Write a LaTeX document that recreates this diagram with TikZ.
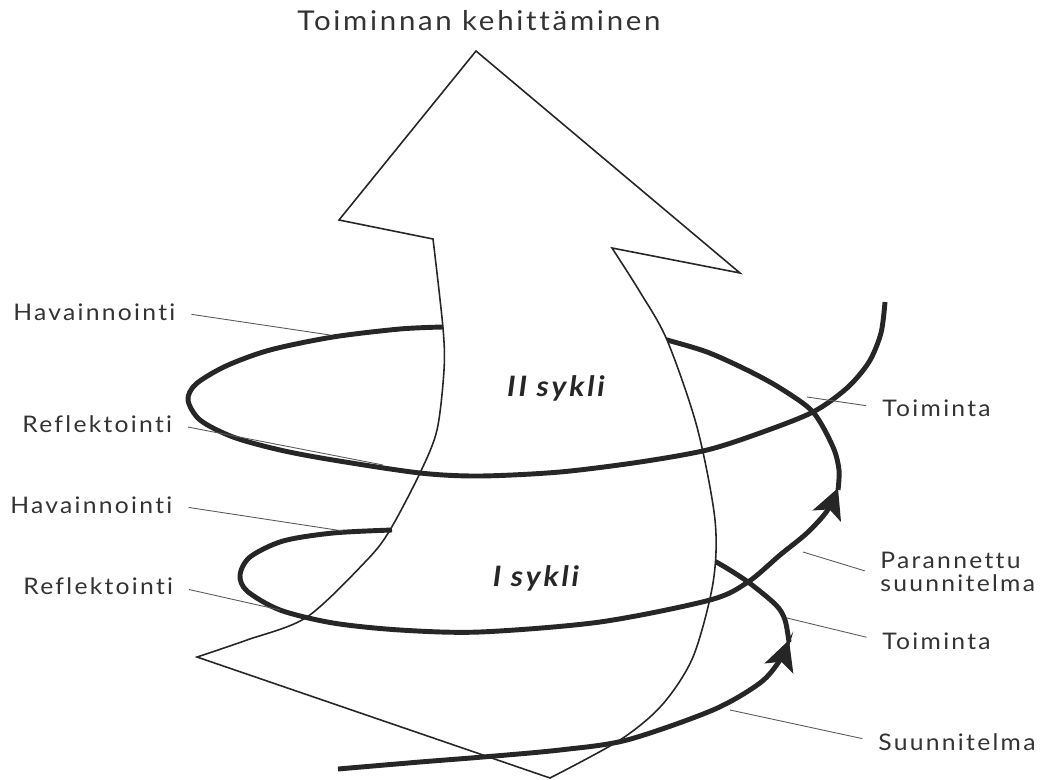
\documentclass[tikz,border=0pt]{standalone}
\usepackage{fontspec}
\setmainfont{Lato}
\newfontfamily\lblfont[LetterSpace=10, FakeStretch=1.08, Ligatures=NoCommon]{Lato}
\usetikzlibrary{arrows.meta}

\begin{document}
\begin{tikzpicture}[x=0.02cm, y=-0.02cm,
    lbl/.style={inner sep=0pt, font=\lblfont\fontsize{13}{15}\selectfont, text=black!80},
    pointer/.style={draw=black!65, line width=0.5pt, shorten <=3.2mm},
    outline/.style={draw=black!85, line width=0.9pt, fill=white, line join=miter},
    coil/.style={draw=black!85, line width=2.8pt},
    coiltip/.style={coil, -{Stealth[length=6mm,width=6mm,inset=1.4mm]}},
    cyclename/.style={font=\lblfont\bfseries\itshape\fontsize{16}{18}\selectfont, text=black!85},
   ]
    \useasboundingbox (0,0) rectangle (1041,780);

    % parts of the spiral that run behind the arrow
    \draw[coil] plot[smooth] coordinates {(789,642) (785,620) (776,605) (748,582) (718,563) (690,550)};
    \draw[coil] plot[smooth] coordinates {(838,490) (839,470) (833,447) (813,412) (780,388) (747,370) (707,352) (667,340) (640,333)};

    % the big arrow
    \draw[outline] (476,51) -- (740,273) -- (612,248)
        -- plot[smooth] coordinates {(612,248) (640,292) (667,340) (697,427) (715,520) (713,583) (693,657) (662,705) (620,740) (550,778)}
        -- (197,657)
        -- plot[smooth] coordinates {(197,657) (247,640) (307,617) (367,560) (390,530) (420,473) (437,430) (444,370) (443,328) (433,239)}
        -- (339,220) -- cycle;

    % parts of the spiral in front of the arrow
    \draw[coiltip] plot[smooth] coordinates {(338,769) (420,762) (483,757) (560,750) (627,740) (713,710) (760,683) (780,660) (789,640)};
    \draw[coiltip] plot[smooth] coordinates {(392,530) (333,533) (283,541) (250,557) (240,575) (247,591) (280,610) (333,623) (400,630) (480,632) (600,622) (710,600) (748,582) (780,555) (807,533) (827,511) (838,488)};
    \draw[coil] plot[smooth] coordinates {(443,327) (400,329) (333,337) (270,350) (226,366) (196,384) (188,400) (200,420) (233,437) (280,450) (333,460) (420,473) (480,476) (560,472) (640,462) (707,450) (760,433) (813,412) (847,388) (869,362) (881,333) (885,302)};

    \node (title) [font=\lblfont\fontsize{15.5}{18}\selectfont, text=black!80] at (479,21) {Toiminnan kehittäminen};
    \node (sykli2) [cyclename] at (556,388) {II sykli};
    \node (sykli1) [cyclename] at (536,578) {I sykli};

    \node (hav2) [lbl, anchor=west] at (13,312) {Havainnointi};
    \node (ref2) [lbl, anchor=west] at (22,424) {Reflektointi};
    \node (hav1) [lbl, anchor=west] at (10,505) {Havainnointi};
    \node (ref1) [lbl, anchor=west] at (23,586) {Reflektointi};

    \node (toi2) [lbl, anchor=west] at (882,408) {Toiminta};
    \node (par)  [lbl, anchor=west, align=left] at (880,572) {Parannettu\\[-2pt]suunnitelma};
    \node (toi1) [lbl, anchor=west] at (882,641) {Toiminta};
    \node (suu)  [lbl, anchor=west] at (878,742) {Suunnitelma};

    \coordinate (hav2p) at (330,335);
    \coordinate (ref2p) at (383,465);
    \coordinate (hav1p) at (343,531);
    \coordinate (ref1p) at (280,610);
    \coordinate (toi2p) at (807,397);
    \coordinate (parp)  at (803,552);
    \coordinate (toi1p) at (787,618);
    \coordinate (suup)  at (730,710);

    \draw[pointer] (hav2.east) -- (hav2p);
    \draw[pointer] (ref2.east) -- (ref2p);
    \draw[pointer] (hav1.east) -- (hav1p);
    \draw[pointer] (ref1.east) -- (ref1p);
    \draw[pointer] (toi2.west) -- (toi2p);
    \draw[pointer] ([yshift=-2pt]par.west) -- (parp);
    \draw[pointer] (toi1.west) -- (toi1p);
    \draw[pointer] (suu.west) -- (suup);
\end{tikzpicture}
\end{document}
